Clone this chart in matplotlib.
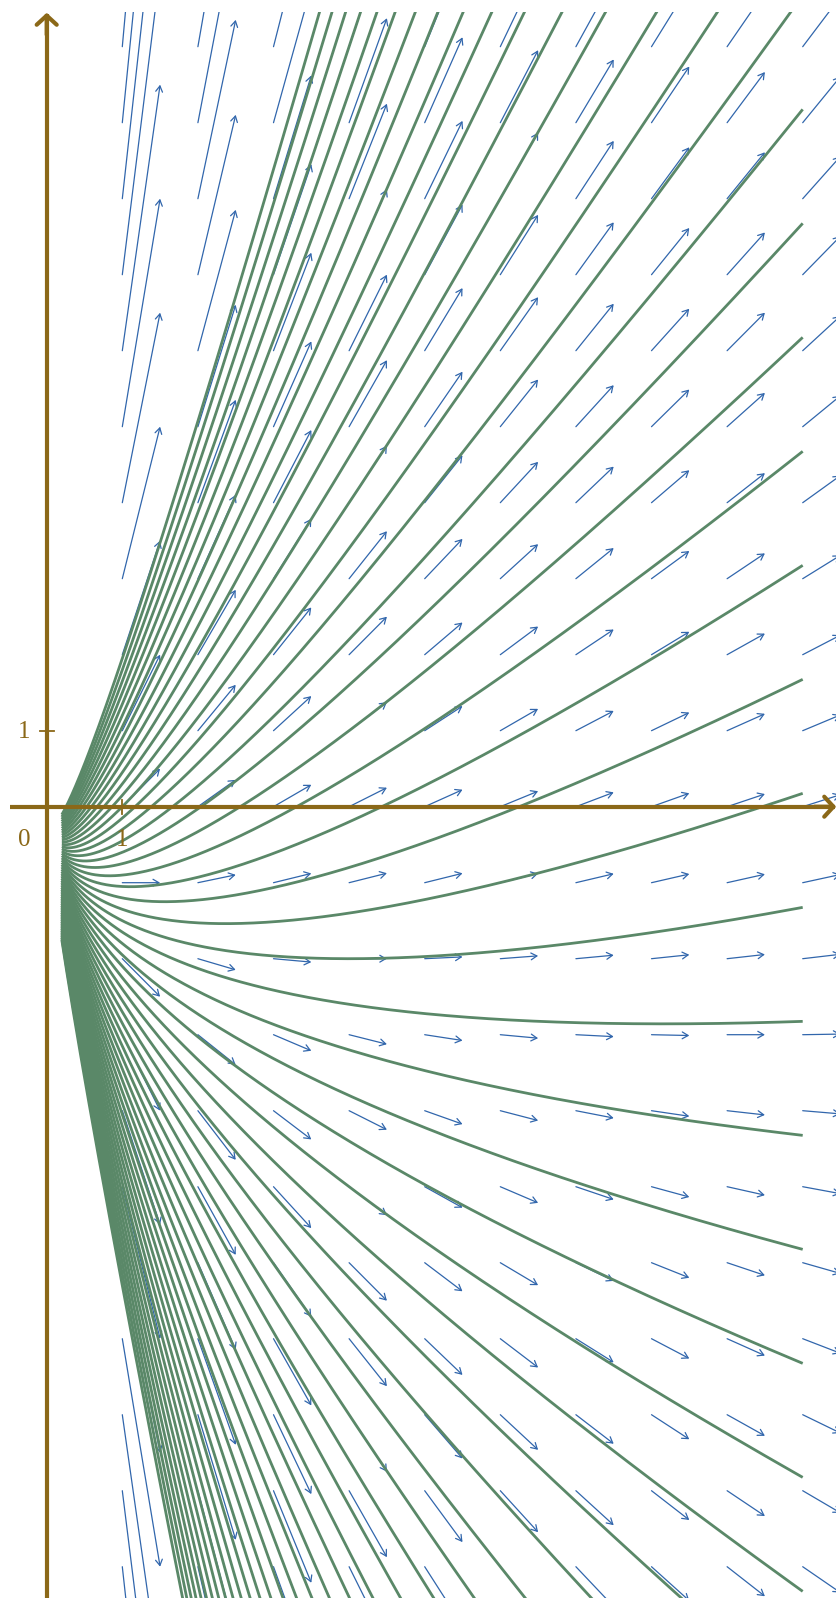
import numpy as np
import matplotlib
matplotlib.use("Agg")
import matplotlib.pyplot as plt
from matplotlib.patches import FancyArrowPatch

# ---------------- data ----------------
# direction field grid (arrow tails)
field_x = [1, 2, 3, 4, 5, 6, 7, 8, 9, 10]
field_y = [-10, -9, -8, -7, -6, -5, -4, -3, -2, -1, 0,
           1, 2, 3, 4, 5, 6, 7, 8, 9, 10]
arrow_dx = 0.5

# solution curves y = C*x - 2*sqrt(x) of  y' = y/x + 1/sqrt(x)
C_values = [-4.30, -4.15, -4.00, -3.85, -3.70, -3.55, -3.40, -3.25, -3.10,
            -2.95, -2.80, -2.65, -2.50, -2.35, -2.20, -2.05, -1.90, -1.75,
            -1.60, -1.45, -1.30, -1.15, -1.00, -0.85, -0.70, -0.55, -0.40,
            -0.25, -0.10, 0.05, 0.20, 0.35, 0.50, 0.65, 0.80, 0.95, 1.10,
            1.25, 1.40, 1.55, 1.70, 1.85, 2.00, 2.15, 2.30, 2.45, 2.60,
            2.75, 2.90, 3.05, 3.20, 3.35, 3.50, 3.65, 3.80, 3.95]
curve_x_start = 0.2
curve_x_end = 10.0

tick_x = [1]
tick_y = [1]
tick_labels_x = ["1"]
tick_labels_y = ["1"]

AXIS_COLOR = "#8B6818"
CURVE_COLOR = "#5A8868"
ARROW_COLOR = "#3166AC"


def slope(x, y):
    return y / x + 1.0 / np.sqrt(x)


def solution(C, x):
    return C * x - 2.0 * np.sqrt(x)


# ---------------- figure ----------------
W, H, DPI = 837, 1598, 100
fig = plt.figure(figsize=(W / DPI, H / DPI), dpi=DPI)
fig.patch.set_facecolor("white")

ox, oy = 46.7, 806.7      # pixel position of the origin (from top-left)
ux, uy = 75.6, 76.0       # pixels per unit
left_px, top_px = 10.0, 12.0

ax = fig.add_axes([left_px / W, 0.0, 1.0 - left_px / W, 1.0 - top_px / H])
ax.set_xlim((left_px - ox) / ux, (W - ox) / ux)
ax.set_ylim((oy - H) / uy, (oy - top_px) / uy)
ax.set_axis_off()

xmin, xmax = ax.get_xlim()
ymin, ymax = ax.get_ylim()

# direction field
for xv in field_x:
    for yv in field_y:
        s = slope(xv, yv)
        arr = FancyArrowPatch((xv, yv), (xv + arrow_dx, yv + arrow_dx * s),
                              arrowstyle="->,head_length=0.6,head_width=0.35",
                              mutation_scale=7, color=ARROW_COLOR,
                              lw=0.9, shrinkA=0, shrinkB=0, zorder=2)
        ax.add_patch(arr)

# solution curves
xs = np.linspace(curve_x_start, curve_x_end, 600)
for C in C_values:
    ax.plot(xs, solution(C, xs), color=CURVE_COLOR, lw=2.0, zorder=3,
            solid_capstyle="butt")

# axes
ax.plot([xmin, xmax - 0.02], [0, 0], color=AXIS_COLOR, lw=3.0, zorder=4,
        solid_capstyle="butt")
ax.plot([0, 0], [ymin, ymax - 0.02], color=AXIS_COLOR, lw=3.0, zorder=4,
        solid_capstyle="butt")
ax.annotate("", xy=(xmax - 0.01, 0), xytext=(xmax - 0.3, 0),
            arrowprops=dict(arrowstyle="->,head_length=0.55,head_width=0.6",
                            color=AXIS_COLOR, lw=3.0, mutation_scale=12,
                            shrinkA=0, shrinkB=0), zorder=5)
ax.annotate("", xy=(0, ymax - 0.01), xytext=(0, ymax - 0.3),
            arrowprops=dict(arrowstyle="->,head_length=0.55,head_width=0.6",
                            color=AXIS_COLOR, lw=3.0, mutation_scale=12,
                            shrinkA=0, shrinkB=0), zorder=5)

tick_half = 7.0
for t, lab in zip(tick_x, tick_labels_x):
    ax.plot([t, t], [-tick_half / uy, tick_half / uy], color=AXIS_COLOR,
            lw=1.3, zorder=5)
    ax.text(t, (oy - 846) / uy, lab, ha="center", va="baseline",
            fontsize=18, color=AXIS_COLOR, family=["Liberation Serif", "DejaVu Serif"])
for t, lab in zip(tick_y, tick_labels_y):
    ax.plot([-tick_half / ux, tick_half / ux], [t, t], color=AXIS_COLOR,
            lw=1.3, zorder=5)
    ax.text((24 - ox) / ux, (oy - 738) / uy, lab, ha="center", va="baseline",
            fontsize=18, color=AXIS_COLOR, family=["Liberation Serif", "DejaVu Serif"])
ax.text((24 - ox) / ux, (oy - 846) / uy, "0", ha="center", va="baseline",
        fontsize=18, color=AXIS_COLOR, family=["Liberation Serif", "DejaVu Serif"])

fig.savefig("out.png", dpi=DPI)
